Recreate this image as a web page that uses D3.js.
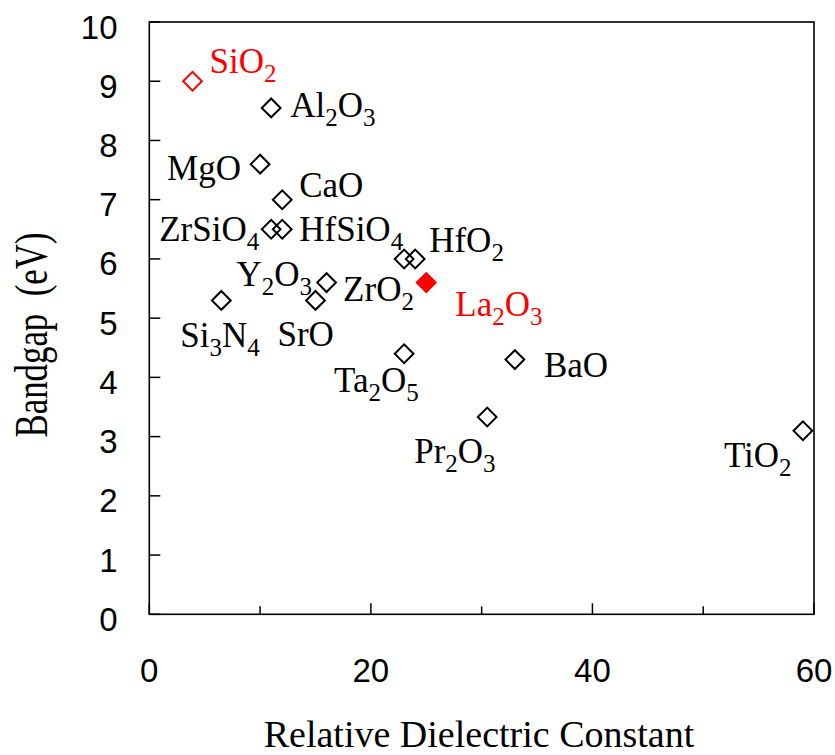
<!DOCTYPE html>
<html>
<head>
<meta charset="utf-8">
<script src="https://cdn.jsdelivr.net/npm/d3@7"></script>
<style>
  html, body { margin: 0; padding: 0; background: #fff; }
  svg { display: block; }
  .tick-label { font-family: "Liberation Sans", Arial, sans-serif; font-size: 33px; fill: #000; }
  .title { font-family: "Liberation Serif", "Times New Roman", serif; fill: #000; }
  .mat { font-family: "Liberation Serif", "Times New Roman", serif; font-size: 35px; }
</style>
</head>
<body>
<svg id="chart" width="835" height="755"></svg>
<script>
// data
const materials  = ["SiO_2", "Al_2O_3", "MgO", "CaO", "ZrSiO_4", "HfSiO_4", "Y_2O_3", "SrO",
                    "Si_3N_4", "ZrO_2", "HfO_2", "La_2O_3", "Ta_2O_5", "BaO", "Pr_2O_3", "TiO_2"];
const dielectric = [3.9, 11, 10, 12, 11, 12, 16, 15, 6.5, 23, 24, 25, 23, 33, 30.5, 59];
const bandgap    = [9.0, 8.55, 7.6, 7.0, 6.5, 6.5, 5.6, 5.3, 5.3, 6.0, 6.0, 5.6, 4.4, 4.3, 3.33, 3.1];
const highlight  = ["SiO_2", "La_2O_3"];
const filled     = ["La_2O_3"];
const xTicks = [0, 20, 40, 60];
const xMinorTicks = [10, 30, 50];
const yTicks = [0, 1, 2, 3, 4, 5, 6, 7, 8, 9, 10];

// label placement relative to each marker (px)
const labelOffsets = {
  "SiO_2": [17, -8], "Al_2O_3": [19, 9], "MgO": [-93, 16], "CaO": [17, -3],
  "ZrSiO_4": [-112, 12], "HfSiO_4": [17, 12], "Y_2O_3": [-90, 3], "SrO": [-38, 46],
  "Si_3N_4": [-41, 47], "ZrO_2": [-61, 42], "HfO_2": [14, -7], "La_2O_3": [29, 33],
  "Ta_2O_5": [-70, 38], "BaO": [29, 17], "Pr_2O_3": [-73, 46], "TiO_2": [-79, 36]
};

const svg = d3.select("#chart");
const plotL = 149.3, plotR = 814, plotT = 22, plotB = 614.3;

const x = d3.scaleLinear().domain([0, 60]).range([plotL, plotR]);
const y = d3.scaleLinear().domain([0, 10]).range([plotB, plotT]);

const data = materials.map((m, i) => ({ name: m, k: dielectric[i], eg: bandgap[i] }));

// frame
svg.append("rect")
  .attr("x", plotL).attr("y", plotT)
  .attr("width", plotR - plotL).attr("height", plotB - plotT)
  .attr("fill", "none").attr("stroke", "#000").attr("stroke-width", 1.6);

// y ticks (inward)
svg.append("g").selectAll("line").data(yTicks).enter().append("line")
  .attr("x1", plotL).attr("x2", plotL + 11)
  .attr("y1", d => y(d)).attr("y2", d => y(d))
  .attr("stroke", "#000").attr("stroke-width", 1.5);

svg.append("g").selectAll("text").data(yTicks).enter().append("text")
  .attr("class", "tick-label")
  .attr("x", 117.5).attr("y", d => y(d) + 16.5)
  .attr("text-anchor", "end")
  .text(d => d);

// x ticks (inward), major and minor
svg.append("g").selectAll("line").data(xTicks).enter().append("line")
  .attr("x1", d => x(d)).attr("x2", d => x(d))
  .attr("y1", plotB).attr("y2", plotB - 11)
  .attr("stroke", "#000").attr("stroke-width", 1.5);
svg.append("g").selectAll("line").data(xMinorTicks).enter().append("line")
  .attr("x1", d => x(d)).attr("x2", d => x(d))
  .attr("y1", plotB).attr("y2", plotB - 8)
  .attr("stroke", "#000").attr("stroke-width", 1.5);

svg.append("g").selectAll("text").data(xTicks).enter().append("text")
  .attr("class", "tick-label")
  .attr("x", d => x(d)).attr("y", 682)
  .attr("text-anchor", "middle")
  .text(d => d);

// axis titles
svg.append("text").attr("class", "title")
  .attr("x", 479).attr("y", 746.5)
  .attr("text-anchor", "middle")
  .attr("font-size", 38)
  .text("Relative Dielectric Constant");

svg.append("text").attr("class", "title")
  .attr("transform", "translate(47,335) rotate(-90)")
  .attr("text-anchor", "middle")
  .attr("font-size", 46)
  .attr("textLength", 205).attr("lengthAdjust", "spacingAndGlyphs")
  .style("white-space", "pre")
  .text("Bandgap  (eV)");

// markers
const colorOf = d => highlight.includes(d.name) ? "#ff0000" : "#000";
svg.append("g").selectAll("path").data(data).enter().append("path")
  .attr("d", d => d3.symbol(d3.symbolSquare, filled.includes(d.name) ? 235 : 176)())
  .attr("transform", d => `translate(${x(d.k)},${y(d.eg)}) rotate(45)`)
  .attr("fill", d => filled.includes(d.name) ? colorOf(d) : "none")
  .attr("stroke", d => filled.includes(d.name) ? "none" : colorOf(d))
  .attr("stroke-width", 2);

// labels with subscripts
const labels = svg.append("g").selectAll("text").data(data).enter().append("text")
  .attr("class", "mat")
  .attr("x", d => x(d.k) + labelOffsets[d.name][0])
  .attr("y", d => y(d.eg) + labelOffsets[d.name][1])
  .attr("fill", colorOf);

labels.each(function (d) {
  const t = d3.select(this);
  const parts = d.name.split(/_(\d)/);
  let sub = false;
  parts.forEach((p, i) => {
    if (!p) return;
    const isSub = i % 2 === 1;
    const span = t.append("tspan").text(p);
    if (isSub) {
      span.attr("font-size", 25).attr("dy", 9);
      sub = true;
    } else if (sub) {
      span.attr("dy", -9);
      sub = false;
    }
  });
});
</script>
</body>
</html>
